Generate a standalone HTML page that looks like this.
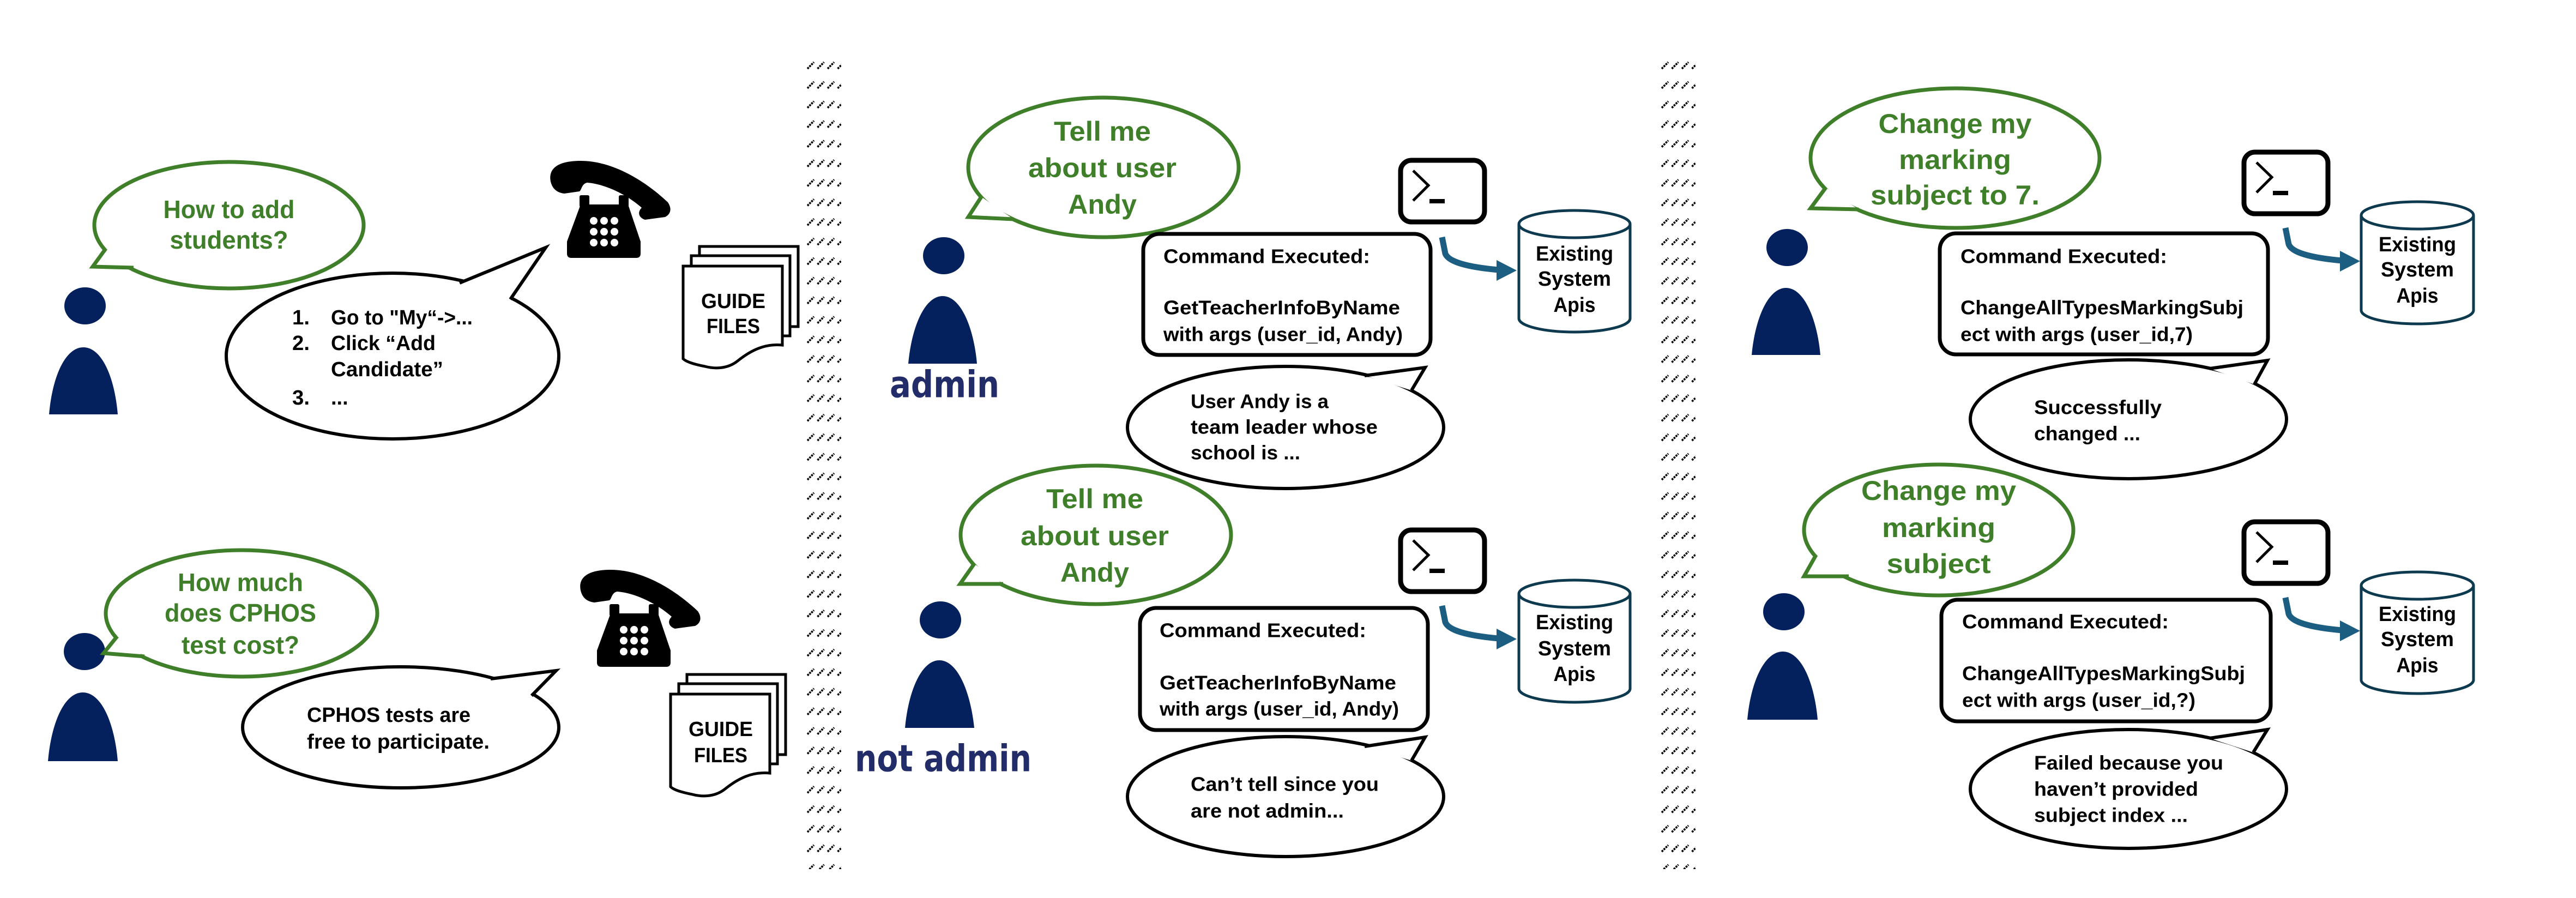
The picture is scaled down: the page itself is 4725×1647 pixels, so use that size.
<!DOCTYPE html>
<html><head><meta charset="utf-8"><style>html,body{margin:0;padding:0;background:#fff}svg{display:block}text{font-family:"Liberation Sans Narrow","Liberation Sans",sans-serif;font-weight:bold}</style></head>
<body>
<svg width="4725" height="1647" viewBox="0 0 4725 1647" xmlns="http://www.w3.org/2000/svg">
<defs>
<pattern id="h1" patternUnits="userSpaceOnUse" x="1479" y="110" width="18.5" height="35.9"><line x1="2" y1="16" x2="14" y2="4" stroke="#000" stroke-width="3.6" stroke-dasharray="3.5 1.6"/></pattern>
<pattern id="h2" patternUnits="userSpaceOnUse" x="3046" y="110" width="18.5" height="35.9"><line x1="2" y1="16" x2="14" y2="4" stroke="#000" stroke-width="3.6" stroke-dasharray="3.5 1.6"/></pattern>
<g id="phone">
<path d="M5 40 C0 15 20 2 60 2 C120 2 180 40 220 78 C228 90 225 100 215 105 L178 110 C166 106 164 96 172 88 C140 60 100 44 72 42 C62 44 62 55 58 58 L30 62 C15 60 8 52 5 40 Z" fill="#000"/>
<rect x="58" y="65" width="18" height="22" rx="3" fill="#000"/><rect x="130" y="65" width="18" height="22" rx="3" fill="#000"/>
<path d="M60 82 L147 82 L170 150 L170 172 Q170 180 162 180 L43 180 Q35 180 35 172 L35 150 Z" fill="#000"/>
<g fill="#fff"><circle cx="84" cy="112" r="7"/><circle cx="103" cy="112" r="7"/><circle cx="122" cy="112" r="7"/><circle cx="84" cy="132" r="7"/><circle cx="103" cy="132" r="7"/><circle cx="122" cy="132" r="7"/><circle cx="84" cy="152" r="7"/><circle cx="103" cy="152" r="7"/><circle cx="122" cy="152" r="7"/></g>
</g>
<g id="guide" fill="#fff" stroke="#000" stroke-width="5">
<rect x="30" y="2" width="181" height="147"/>
<rect x="15" y="19" width="181" height="147"/>
<path d="M0 38 L182 38 L182 183 C150 180 125 192 100 212 C80 228 55 226 40 222 C20 218 6 214 0 208 Z"/>
</g>
<g id="term">
<rect x="4" y="4" width="154" height="113" rx="20" fill="#fff" stroke="#000" stroke-width="9"/>
<polyline points="27,23 55,50 27,78" fill="none" stroke="#000" stroke-width="5"/>
<rect x="57" y="75" width="28" height="8" fill="#000"/>
</g>
<g id="arrow">
<path d="M0 0 L6 30 Q14 52 104 60" fill="none" stroke="#1b5e82" stroke-width="11"/>
<polygon points="100,42 137,61 100,80" fill="#1b5e82"/>
</g>
</defs>

<rect x="1479" y="102" width="64" height="1492" fill="url(#h1)"/>
<rect x="3046" y="102" width="64" height="1492" fill="url(#h2)"/>

<!-- Section 1 -->
<ellipse cx="156" cy="561" rx="38" ry="34" fill="#04205d"/>
<path d="M90 760 C96 690 120 637 153 637 C186 637 210 690 216 760 Z" fill="#04205d"/>
<ellipse cx="420" cy="413" rx="247" ry="116" fill="#fff" stroke="#3f7f2a" stroke-width="7"/>
<polygon points="194,456 170,489 245,491" fill="#fff"/>
<polyline points="194,456 170,489 245,491" fill="none" stroke="#3f7f2a" stroke-width="7"/>
<text x="420" y="384" font-size="46" fill="#3f7f2a" text-anchor="middle" dominant-baseline="central" textLength="241" lengthAdjust="spacingAndGlyphs">How to add</text>
<text x="420" y="440" font-size="46" fill="#3f7f2a" text-anchor="middle" dominant-baseline="central" textLength="217" lengthAdjust="spacingAndGlyphs">students?</text>
<ellipse cx="720" cy="653" rx="305" ry="152" fill="#fff" stroke="#000" stroke-width="6"/>
<polygon points="843,519 1001,454 936,549" fill="#fff"/>
<polyline points="843,519 1001,454 936,549" fill="none" stroke="#000" stroke-width="6"/>
<g font-size="38" fill="#000" dominant-baseline="central">
<text x="536" y="583" textLength="32" lengthAdjust="spacingAndGlyphs">1.</text>
<text x="607" y="583" textLength="260" lengthAdjust="spacingAndGlyphs">Go to "My“-&gt;...</text>
<text x="536" y="630" textLength="32" lengthAdjust="spacingAndGlyphs">2.</text>
<text x="607" y="630" textLength="192" lengthAdjust="spacingAndGlyphs">Click “Add</text>
<text x="607" y="678" textLength="206" lengthAdjust="spacingAndGlyphs">Candidate”</text>
<text x="536" y="730" textLength="32" lengthAdjust="spacingAndGlyphs">3.</text>
<text x="607" y="730">...</text>
</g>
<use href="#phone" x="1005" y="293"/>
<use href="#guide" x="1253" y="450"/>
<text x="1345" y="553" font-size="38" text-anchor="middle" dominant-baseline="central" textLength="118" lengthAdjust="spacingAndGlyphs">GUIDE</text>
<text x="1345" y="599" font-size="38" text-anchor="middle" dominant-baseline="central" textLength="98" lengthAdjust="spacingAndGlyphs">FILES</text>

<ellipse cx="155" cy="1195" rx="38" ry="34" fill="#04205d"/>
<path d="M88 1396 C94 1326 118 1270 152 1270 C186 1270 210 1326 216 1396 Z" fill="#04205d"/>
<ellipse cx="443" cy="1125" rx="249" ry="116" fill="#fff" stroke="#3f7f2a" stroke-width="7"/>
<polygon points="215,1167 190,1198 265,1204" fill="#fff"/>
<polyline points="215,1167 190,1198 265,1204" fill="none" stroke="#3f7f2a" stroke-width="7"/>
<text x="441" y="1068" font-size="46" fill="#3f7f2a" text-anchor="middle" dominant-baseline="central" textLength="230" lengthAdjust="spacingAndGlyphs">How much</text>
<text x="441" y="1124" font-size="46" fill="#3f7f2a" text-anchor="middle" dominant-baseline="central" textLength="278" lengthAdjust="spacingAndGlyphs">does CPHOS</text>
<text x="441" y="1183" font-size="46" fill="#3f7f2a" text-anchor="middle" dominant-baseline="central" textLength="216" lengthAdjust="spacingAndGlyphs">test cost?</text>
<ellipse cx="735" cy="1334" rx="290" ry="111" fill="#fff" stroke="#000" stroke-width="6"/>
<polygon points="900,1245 1020,1230 975,1276" fill="#fff"/>
<polyline points="900,1245 1020,1230 975,1276" fill="none" stroke="#000" stroke-width="6"/>
<text x="563" y="1312" font-size="38" dominant-baseline="central" textLength="300" lengthAdjust="spacingAndGlyphs">CPHOS tests are</text>
<text x="563" y="1361" font-size="38" dominant-baseline="central" textLength="335" lengthAdjust="spacingAndGlyphs">free to participate.</text>
<use href="#phone" x="1060" y="1043"/>
<use href="#guide" x="1230" y="1235"/>
<text x="1322" y="1338" font-size="38" text-anchor="middle" dominant-baseline="central" textLength="118" lengthAdjust="spacingAndGlyphs">GUIDE</text>
<text x="1322" y="1386" font-size="38" text-anchor="middle" dominant-baseline="central" textLength="98" lengthAdjust="spacingAndGlyphs">FILES</text>

<!-- Section 2 top -->
<ellipse cx="1731" cy="469" rx="38" ry="34" fill="#04205d"/>
<path d="M1666 667 C1672 600 1696 543 1729 543 C1762 543 1786 600 1792 667 Z" fill="#04205d"/>
<text x="1632" y="706" font-size="68" fill="#222c68" dominant-baseline="central" textLength="201" lengthAdjust="spacingAndGlyphs" style="font-family:'DejaVu Sans','Liberation Sans',sans-serif">admin</text>
<ellipse cx="2024" cy="307" rx="248" ry="128" fill="#fff" stroke="#3f7f2a" stroke-width="7"/>
<polygon points="1800,361 1776,398 1859,402" fill="#fff"/>
<polyline points="1800,361 1776,398 1859,402" fill="none" stroke="#3f7f2a" stroke-width="7"/>
<g font-size="50" fill="#3f7f2a" text-anchor="middle" dominant-baseline="central">
<text x="2022" y="241" textLength="178" lengthAdjust="spacingAndGlyphs">Tell me</text>
<text x="2022" y="308" textLength="272" lengthAdjust="spacingAndGlyphs">about user</text>
<text x="2022" y="375" textLength="126" lengthAdjust="spacingAndGlyphs">Andy</text>
</g>
<use href="#term" x="2565" y="290"/>
<rect x="2097" y="429" width="527" height="222" rx="30" fill="#fff" stroke="#000" stroke-width="7"/>
<g font-size="36" dominant-baseline="central">
<text x="2134" y="470" textLength="379" lengthAdjust="spacingAndGlyphs">Command Executed:</text>
<text x="2134" y="564" textLength="434" lengthAdjust="spacingAndGlyphs">GetTeacherInfoByName</text>
<text x="2134" y="613" textLength="439" lengthAdjust="spacingAndGlyphs">with args (user_id, Andy)</text>
</g>
<use href="#arrow" x="2645" y="435"/>
<path d="M2786 411 L2786 584 A102 25 0 0 0 2990 584 L2990 411" fill="#fff" stroke="#0d3a4e" stroke-width="5"/>
<ellipse cx="2888" cy="411" rx="102" ry="25" fill="#fff" stroke="#0d3a4e" stroke-width="5"/>
<g font-size="38" text-anchor="middle" dominant-baseline="central">
<text x="2888" y="466" textLength="142" lengthAdjust="spacingAndGlyphs">Existing</text>
<text x="2888" y="512" textLength="134" lengthAdjust="spacingAndGlyphs">System</text>
<text x="2888" y="560" textLength="77" lengthAdjust="spacingAndGlyphs">Apis</text>
</g>
<ellipse cx="2358" cy="784" rx="290" ry="112" fill="#fff" stroke="#000" stroke-width="6"/>
<polygon points="2503,689 2614,674 2589,716" fill="#fff"/>
<polyline points="2503,689 2614,674 2589,716" fill="none" stroke="#000" stroke-width="6"/>
<g font-size="36" dominant-baseline="central">
<text x="2184" y="736" textLength="253" lengthAdjust="spacingAndGlyphs">User Andy is a</text>
<text x="2184" y="783" textLength="343" lengthAdjust="spacingAndGlyphs">team leader whose</text>
<text x="2184" y="830" textLength="201" lengthAdjust="spacingAndGlyphs">school is ...</text>
</g>

<!-- Section 2 bottom -->
<ellipse cx="1725" cy="1137" rx="38" ry="34" fill="#04205d"/>
<path d="M1660 1335 C1666 1268 1690 1211 1723 1211 C1756 1211 1780 1268 1787 1335 Z" fill="#04205d"/>
<text x="1568" y="1392" font-size="68" fill="#222c68" dominant-baseline="central" textLength="324" lengthAdjust="spacingAndGlyphs" style="font-family:'DejaVu Sans','Liberation Sans',sans-serif">not admin</text>
<ellipse cx="2010" cy="981" rx="248" ry="127" fill="#fff" stroke="#3f7f2a" stroke-width="7"/>
<polygon points="1787,1034 1761,1071 1840,1071" fill="#fff"/>
<polyline points="1787,1034 1761,1071 1840,1071" fill="none" stroke="#3f7f2a" stroke-width="7"/>
<g font-size="50" fill="#3f7f2a" text-anchor="middle" dominant-baseline="central">
<text x="2008" y="915" textLength="178" lengthAdjust="spacingAndGlyphs">Tell me</text>
<text x="2008" y="983" textLength="272" lengthAdjust="spacingAndGlyphs">about user</text>
<text x="2008" y="1050" textLength="126" lengthAdjust="spacingAndGlyphs">Andy</text>
</g>
<use href="#term" x="2565" y="968"/>
<rect x="2091" y="1115" width="528" height="224" rx="30" fill="#fff" stroke="#000" stroke-width="7"/>
<g font-size="36" dominant-baseline="central">
<text x="2127" y="1156" textLength="379" lengthAdjust="spacingAndGlyphs">Command Executed:</text>
<text x="2127" y="1252" textLength="434" lengthAdjust="spacingAndGlyphs">GetTeacherInfoByName</text>
<text x="2127" y="1300" textLength="439" lengthAdjust="spacingAndGlyphs">with args (user_id, Andy)</text>
</g>
<use href="#arrow" x="2645" y="1111"/>
<path d="M2786 1089 L2786 1263 A102 25 0 0 0 2990 1263 L2990 1089" fill="#fff" stroke="#0d3a4e" stroke-width="5"/>
<ellipse cx="2888" cy="1089" rx="102" ry="25" fill="#fff" stroke="#0d3a4e" stroke-width="5"/>
<g font-size="38" text-anchor="middle" dominant-baseline="central">
<text x="2888" y="1142" textLength="142" lengthAdjust="spacingAndGlyphs">Existing</text>
<text x="2888" y="1190" textLength="134" lengthAdjust="spacingAndGlyphs">System</text>
<text x="2888" y="1237" textLength="77" lengthAdjust="spacingAndGlyphs">Apis</text>
</g>
<ellipse cx="2358" cy="1461" rx="290" ry="110" fill="#fff" stroke="#000" stroke-width="6"/>
<polygon points="2503,1369 2614,1352 2589,1395" fill="#fff"/>
<polyline points="2503,1369 2614,1352 2589,1395" fill="none" stroke="#000" stroke-width="6"/>
<g font-size="36" dominant-baseline="central">
<text x="2184" y="1438" textLength="345" lengthAdjust="spacingAndGlyphs">Can’t tell since you</text>
<text x="2184" y="1487" textLength="281" lengthAdjust="spacingAndGlyphs">are not admin...</text>
</g>

<!-- Section 3 top -->
<ellipse cx="3278" cy="454" rx="38" ry="34" fill="#04205d"/>
<path d="M3213 651 C3219 585 3243 528 3276 528 C3309 528 3333 585 3339 651 Z" fill="#04205d"/>
<ellipse cx="3586" cy="290" rx="265" ry="128" fill="#fff" stroke="#3f7f2a" stroke-width="7"/>
<polygon points="3349,344 3321,382 3409,384" fill="#fff"/>
<polyline points="3349,344 3321,382 3409,384" fill="none" stroke="#3f7f2a" stroke-width="7"/>
<g font-size="50" fill="#3f7f2a" text-anchor="middle" dominant-baseline="central">
<text x="3586" y="227" textLength="281" lengthAdjust="spacingAndGlyphs">Change my</text>
<text x="3586" y="293" textLength="206" lengthAdjust="spacingAndGlyphs">marking</text>
<text x="3586" y="358" textLength="310" lengthAdjust="spacingAndGlyphs">subject to 7.</text>
</g>
<use href="#term" x="4112" y="275"/>
<rect x="3558" y="428" width="602" height="222" rx="30" fill="#fff" stroke="#000" stroke-width="7"/>
<g font-size="36" dominant-baseline="central">
<text x="3596" y="470" textLength="379" lengthAdjust="spacingAndGlyphs">Command Executed:</text>
<text x="3596" y="564" textLength="519" lengthAdjust="spacingAndGlyphs">ChangeAllTypesMarkingSubj</text>
<text x="3596" y="613" textLength="426" lengthAdjust="spacingAndGlyphs">ect with args (user_id,7)</text>
</g>
<use href="#arrow" x="4192" y="418"/>
<path d="M4331 395 L4331 569 A103 25 0 0 0 4537 569 L4537 395" fill="#fff" stroke="#0d3a4e" stroke-width="5"/>
<ellipse cx="4434" cy="395" rx="103" ry="25" fill="#fff" stroke="#0d3a4e" stroke-width="5"/>
<g font-size="38" text-anchor="middle" dominant-baseline="central">
<text x="4434" y="449" textLength="142" lengthAdjust="spacingAndGlyphs">Existing</text>
<text x="4434" y="495" textLength="134" lengthAdjust="spacingAndGlyphs">System</text>
<text x="4434" y="543" textLength="77" lengthAdjust="spacingAndGlyphs">Apis</text>
</g>
<ellipse cx="3904" cy="769" rx="290" ry="109" fill="#fff" stroke="#000" stroke-width="6"/>
<polygon points="4053,676 4159,661 4135,705" fill="#fff"/>
<polyline points="4053,676 4159,661 4135,705" fill="none" stroke="#000" stroke-width="6"/>
<g font-size="36" dominant-baseline="central">
<text x="3731" y="747" textLength="234" lengthAdjust="spacingAndGlyphs">Successfully</text>
<text x="3731" y="795" textLength="195" lengthAdjust="spacingAndGlyphs">changed ...</text>
</g>

<!-- Section 3 bottom -->
<ellipse cx="3272" cy="1122" rx="38" ry="34" fill="#04205d"/>
<path d="M3205 1320 C3211 1252 3236 1195 3270 1195 C3304 1195 3328 1252 3334 1320 Z" fill="#04205d"/>
<ellipse cx="3556" cy="972" rx="247" ry="120" fill="#fff" stroke="#3f7f2a" stroke-width="7"/>
<polygon points="3331,1018 3309,1057 3391,1057" fill="#fff"/>
<polyline points="3331,1018 3309,1057 3391,1057" fill="none" stroke="#3f7f2a" stroke-width="7"/>
<g font-size="50" fill="#3f7f2a" text-anchor="middle" dominant-baseline="central">
<text x="3556" y="900" textLength="284" lengthAdjust="spacingAndGlyphs">Change my</text>
<text x="3556" y="968" textLength="208" lengthAdjust="spacingAndGlyphs">marking</text>
<text x="3556" y="1034" textLength="191" lengthAdjust="spacingAndGlyphs">subject</text>
</g>
<use href="#term" x="4112" y="953"/>
<rect x="3561" y="1100" width="604" height="223" rx="30" fill="#fff" stroke="#000" stroke-width="7"/>
<g font-size="36" dominant-baseline="central">
<text x="3599" y="1140" textLength="379" lengthAdjust="spacingAndGlyphs">Command Executed:</text>
<text x="3599" y="1235" textLength="519" lengthAdjust="spacingAndGlyphs">ChangeAllTypesMarkingSubj</text>
<text x="3599" y="1284" textLength="428" lengthAdjust="spacingAndGlyphs">ect with args (user_id,?)</text>
</g>
<use href="#arrow" x="4192" y="1096"/>
<path d="M4331 1074 L4331 1247 A103 25 0 0 0 4537 1247 L4537 1074" fill="#fff" stroke="#0d3a4e" stroke-width="5"/>
<ellipse cx="4434" cy="1074" rx="103" ry="25" fill="#fff" stroke="#0d3a4e" stroke-width="5"/>
<g font-size="38" text-anchor="middle" dominant-baseline="central">
<text x="4434" y="1127" textLength="142" lengthAdjust="spacingAndGlyphs">Existing</text>
<text x="4434" y="1173" textLength="134" lengthAdjust="spacingAndGlyphs">System</text>
<text x="4434" y="1221" textLength="77" lengthAdjust="spacingAndGlyphs">Apis</text>
</g>
<ellipse cx="3904" cy="1447" rx="290" ry="109" fill="#fff" stroke="#000" stroke-width="6"/>
<polygon points="4053,1354 4159,1338 4133,1380" fill="#fff"/>
<polyline points="4053,1354 4159,1338 4133,1380" fill="none" stroke="#000" stroke-width="6"/>
<g font-size="36" dominant-baseline="central">
<text x="3731" y="1399" textLength="347" lengthAdjust="spacingAndGlyphs">Failed because you</text>
<text x="3731" y="1447" textLength="301" lengthAdjust="spacingAndGlyphs">haven’t provided</text>
<text x="3731" y="1495" textLength="282" lengthAdjust="spacingAndGlyphs">subject index ...</text>
</g>
</svg>
</body></html>
